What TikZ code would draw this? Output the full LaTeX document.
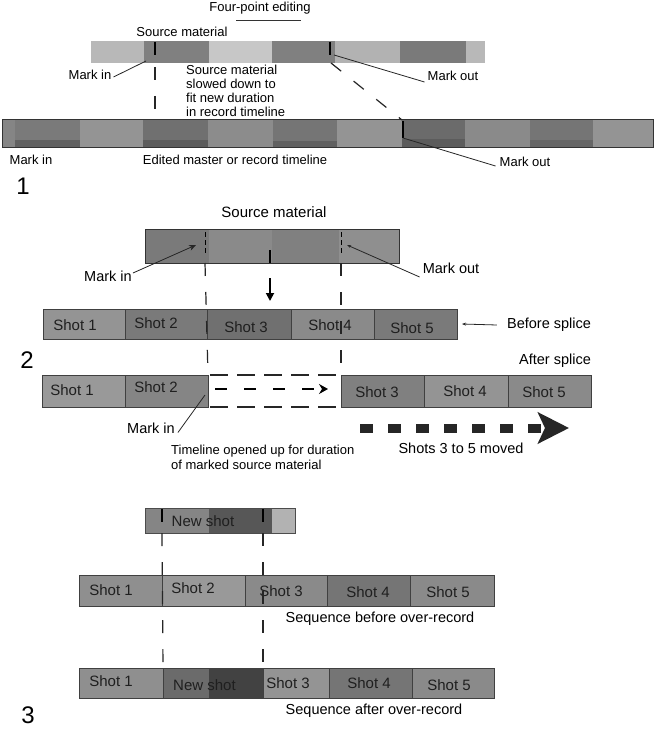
\documentclass[tikz,border=0pt]{standalone}
\usepackage{fontspec}
\setmainfont{Liberation Sans}
\usetikzlibrary{arrows.meta}
\newcommand{\segbox}[6]{\node[seg,fill=#6,minimum width={(#4-#2)*1pt},minimum height={(#5-#3)*1pt}] (#1) at ({(#2+#4)/2},{(#3+#5)/2}) {};}
\tikzset{
  seg/.style={draw=none,inner sep=0pt,outer sep=0pt},
  shotseg/.style={draw=black!75,line width=0.8pt},
  barline/.style={draw=black!80,line width=1pt},
  lbl/.style={font=\fontsize{13}{15}\selectfont,text=black,inner sep=0pt},
  lblb/.style={font=\fontsize{14.5}{16}\selectfont,text=black,inner sep=0pt},
  shotlbl/.style={font=\fontsize{15}{16}\selectfont,text=black!88,inner sep=0pt},
  bignum/.style={font=\fontsize{24}{26}\selectfont,inner sep=0pt},
  guide/.style={draw=black!85,line width=1.2pt,dash pattern=on 13pt off 16pt},
  tickmark/.style={draw=black,line width=1.6pt},
  pointer/.style={draw=black!85,line width=0.8pt},
}
\begin{document}
\begin{tikzpicture}[x=1pt,y=-1pt]
\fill[white] (0,0) rectangle (656,730);
\useasboundingbox (0,0) rectangle (656,730);

% ---------------- Section 1 ----------------
\node[lbl] (title) at (260,8) {Four-point editing};
\coordinate (ulA) at (236,20);
\coordinate (ulB) at (301,20);
\draw[line width=0.6pt,black!80] (ulA) -- (ulB);
\node[lbl] (src1) at (182,32) {Source material};

\segbox{t1}{91}{41}{144}{63}{black!28}
\segbox{t2}{144}{41}{209}{63}{black!50}
\segbox{t3}{209}{41}{272}{63}{black!22}
\segbox{t4}{272}{41}{335}{63}{black!50}
\segbox{t5}{335}{41}{400}{63}{black!30}
\segbox{t6}{400}{41}{466}{63}{black!52}
\segbox{t7}{466}{41}{485}{63}{black!28}
\coordinate (tinA) at (155,42);
\coordinate (tinB) at (155,55);
\coordinate (toutA) at (330,42);
\coordinate (toutB) at (330,55);
\draw[tickmark] (tinA) -- (tinB);
\draw[tickmark] (toutA) -- (toutB);

\node[lbl] (mi1) at (90,75) {Mark in};
\coordinate (mi1end) at (146,61);
\draw[pointer] ([xshift=2pt,yshift=-2pt]mi1.east) -- (mi1end);
\node[lbl] (mo1) at (453,76) {Mark out};
\coordinate (mo1end) at (334,55);
\draw[pointer] ([xshift=-3pt,yshift=-6pt]mo1.west) -- (mo1end);

\node[lbl,align=left,anchor=north west,font=\fontsize{13}{14}\selectfont] (slow) at (186,65) {Source material\\slowed down to\\fit new duration\\in record timeline};

% record timeline
\segbox{r0}{2}{120}{15}{148}{black!48}
\segbox{r1}{15}{120}{80}{148}{black!52}
\segbox{r2}{80}{120}{143}{148}{black!42}
\segbox{r3}{143}{120}{208}{148}{black!56}
\segbox{r4}{208}{120}{273}{148}{black!45}
\segbox{r5}{273}{120}{337}{148}{black!54}
\segbox{r6}{337}{120}{402}{148}{black!42}
\segbox{r7}{402}{120}{465}{148}{black!58}
\segbox{r8}{465}{120}{530}{148}{black!46}
\segbox{r9}{530}{120}{593}{148}{black!54}
\segbox{r10}{593}{120}{653}{148}{black!42}
\fill[black!62] (r1.south west) rectangle ([yshift=8pt]r1.south east);
\fill[black!64] (r3.south west) rectangle ([yshift=8pt]r3.south east);
\fill[black!62] (r5.south west) rectangle ([yshift=7pt]r5.south east);
\fill[black!64] (r7.south west) rectangle ([yshift=9pt]r7.south east);
\fill[black!60] (r9.south west) rectangle ([yshift=8pt]r9.south east);
\draw[barline] (r0.north west) rectangle (r10.south east);

\coordinate (g1a) at (155,67);
\coordinate (g1b) at (155,123);
\draw[guide] (g1a) -- (g1b);
\coordinate (g2a) at (331,63);
\coordinate (g2b) at (402,120);
\draw[guide] (g2a) -- (g2b);
\coordinate (rtA) at (403,121);
\coordinate (rtB) at (403,138);
\draw[tickmark] (rtA) -- (rtB);

\node[lbl] (mi1b) at (31,160) {Mark in};
\node[lbl] (edited) at (235,160) {Edited master or record timeline};
\node[lbl] (mo1b) at (525,162) {Mark out};
\draw[pointer] (rtB) -- ([xshift=-4pt,yshift=-4pt]mo1b.west);
\node[bignum] (n1) at (23,186) {1};

% ---------------- Section 2 ----------------
\node[lblb,font=\fontsize{15}{16}\selectfont] (src2) at (274,212) {Source material};
\segbox{sa}{145}{229}{209}{263}{black!52}
\segbox{sb}{209}{229}{272}{263}{black!46}
\segbox{sc}{272}{229}{339}{263}{black!50}
\segbox{sd}{339}{229}{399}{263}{black!44}
\draw[barline] (sa.north west) rectangle (sd.south east);
\coordinate (smA) at (270,250);
\coordinate (smB) at (270,263);
\draw[tickmark] (smA) -- (smB);
\coordinate (siA) at (205,232);
\coordinate (siB) at (205,253);
\coordinate (soA) at (341,232);
\coordinate (soB) at (341,253);
\draw[black,line width=1pt,dash pattern=on 5pt off 3pt] (siA) -- (siB);
\draw[black,line width=1pt,dash pattern=on 5pt off 3pt] (soA) -- (soB);

\node[lblb] (mi2) at (108,276) {Mark in};
\coordinate (mi2end) at (196,245);
\draw[pointer,-{Stealth[length=7pt,width=6pt]}] ([xshift=1pt,yshift=3pt]mi2.east) -- (mi2end);
\node[lblb] (mo2) at (451,268) {Mark out};
\coordinate (mo2end) at (347,245);
\draw[pointer,-{Stealth[length=4pt,width=3pt]}] ([xshift=-3pt,yshift=-9pt]mo2.west) -- (mo2end);

\coordinate (dnA) at (270,278);
\coordinate (dnB) at (270,301);
\draw[line width=1.8pt,-{Triangle[length=8pt,width=8pt]}] (dnA) -- (dnB);

% before splice
\segbox{p1}{43}{309}{125}{339}{black!42}
\segbox{p2}{125}{309}{207}{339}{black!52}
\segbox{p3}{207}{309}{291}{339}{black!56}
\segbox{p4}{291}{309}{374}{339}{black!46}
\segbox{p5}{374}{309}{457}{339}{black!52}
\foreach \s in {p1,p2,p3,p4,p5} \draw[shotseg] (\s.north west) rectangle (\s.south east);
\node[shotlbl] (p1t) at (75,325) {Shot 1};
\node[shotlbl] (p2t) at (156,323) {Shot 2};
\node[shotlbl] (p3t) at (246,327) {Shot 3};
\node[shotlbl] (p4t) at (330,325) {Shot 4};
\node[shotlbl] (p5t) at (412,328) {Shot 5};

\node[lblb] (bsp) at (549,325) {Before splice};
\draw[pointer,-{Stealth[length=4pt,width=3pt]}] ([xshift=-10pt]bsp.west) -- ([xshift=5pt]p5.east);
\node[bignum] (n2) at (27,360) {2};
\node[lblb] (asp) at (555,361) {After splice};

% after splice
\segbox{q1}{42}{375}{125}{407}{black!40}
\segbox{q2}{125}{375}{208}{407}{black!48}
\segbox{q3}{341}{375}{424}{407}{black!50}
\segbox{q4}{424}{375}{508}{407}{black!42}
\segbox{q5}{508}{375}{591}{407}{black!46}
\foreach \s in {q1,q2,q3,q4,q5} \draw[shotseg] (\s.north west) rectangle (\s.south east);
\node[shotlbl] (q1t) at (72,390) {Shot 1};
\node[shotlbl] (q2t) at (156,387) {Shot 2};
\node[shotlbl] (q3t) at (377,392) {Shot 3};
\node[shotlbl] (q4t) at (465,391) {Shot 4};
\node[shotlbl] (q5t) at (544,392) {Shot 5};

\draw[black!85,line width=1.1pt,dash pattern=on 18pt off 9pt] ([xshift=2pt]q2.north east) -- (q3.north west);
\draw[black!85,line width=1.1pt,dash pattern=on 18pt off 9pt] ([xshift=2pt]q2.south east) -- (q3.south west);
\coordinate (ioA) at (215,389);
\coordinate (ioB) at (328,389);
\draw[black,line width=2.4pt,dash pattern=on 12pt off 17pt,-{Stealth[length=9pt,width=10pt,inset=3pt]}] (ioA) -- (ioB);

\draw[guide] (205,263) -- (q2.north east);
\draw[guide] (341,263) -- (q3.north west);

\node[lblb] (mi3) at (151,428) {Mark in};
\coordinate (mi3end) at (205,395);
\draw[pointer] ([xshift=3pt,yshift=-10pt]mi3.north east) -- (mi3end);

\coordinate (bigA) at (360,428);
\coordinate (bigB) at (569,428);
\draw[black!85,line width=9pt,dash pattern=on 13pt off 15pt,-{Stealth[length=31pt,width=31pt,inset=7pt]}] (bigA) -- (bigB);
\node[lblb] (moved) at (461,448) {Shots 3 to 5 moved};
\node[lbl,align=left,anchor=north west] (opened) at (171,445) {Timeline opened up for duration\\of marked source material};

% ---------------- Section 3 ----------------
\segbox{na}{145}{508}{209}{533}{black!48}
\segbox{nb}{209}{508}{272}{533}{black!66}
\segbox{nc}{272}{508}{295}{533}{black!30}
\draw[draw=black!70,line width=0.8pt] (na.north west) rectangle (nc.south east);
\node[shotlbl] (nst) at (203,521) {New shot};
\coordinate (nkA) at (162,509);
\coordinate (nkB) at (162,522);
\coordinate (nlA) at (263,509);
\coordinate (nlB) at (263,522);
\draw[tickmark,line width=1.3pt] (nkA) -- (nkB);
\draw[tickmark,line width=1.3pt] (nlA) -- (nlB);

\segbox{u1}{79}{575}{162}{606}{black!44}
\segbox{u2}{162}{575}{245}{606}{black!40}
\segbox{u3}{245}{575}{327}{606}{black!46}
\segbox{u4}{327}{575}{410}{606}{black!54}
\segbox{u5}{410}{575}{494}{606}{black!46}
\foreach \s in {u1,u2,u3,u4,u5} \draw[shotseg] (\s.north west) rectangle (\s.south east);
\node[shotlbl] (u1t) at (111,590) {Shot 1};
\node[shotlbl] (u2t) at (193,588) {Shot 2};
\node[shotlbl] (u3t) at (281,591) {Shot 3};
\node[shotlbl] (u4t) at (368,592) {Shot 4};
\node[shotlbl] (u5t) at (448,592) {Shot 5};
\node[lblb] (seqb) at (380,619) {Sequence before over-record};

\segbox{v1}{79}{668}{163}{698}{black!44}
\segbox{v2}{163}{668}{209}{698}{black!58}
\segbox{v2b}{209}{668}{263}{698}{black!74}
\segbox{v3}{263}{668}{329}{698}{black!42}
\segbox{v4}{329}{668}{412}{698}{black!54}
\segbox{v5}{412}{668}{494}{698}{black!46}
\foreach \s in {v1,v3,v4,v5} \draw[shotseg] (\s.north west) rectangle (\s.south east);
\draw[shotseg] (v2.north west) rectangle (v2b.south east);
\node[shotlbl] (v1t) at (111,681) {Shot 1};
\node[shotlbl,anchor=west] (v2t) at (173,685) {New shot};
\node[shotlbl] (v3t) at (288,683) {Shot 3};
\node[shotlbl] (v4t) at (369,683) {Shot 4};
\node[shotlbl] (v5t) at (449,685) {Shot 5};
\node[lblb] (seqa) at (374,711) {Sequence after over-record};
\node[bignum] (n3) at (28,715) {3};

\draw[guide] (nkB |- na.south) -- (v2.north west);
\draw[guide] (nlB |- na.south) -- (v3.north west);
\end{tikzpicture}
\end{document}
